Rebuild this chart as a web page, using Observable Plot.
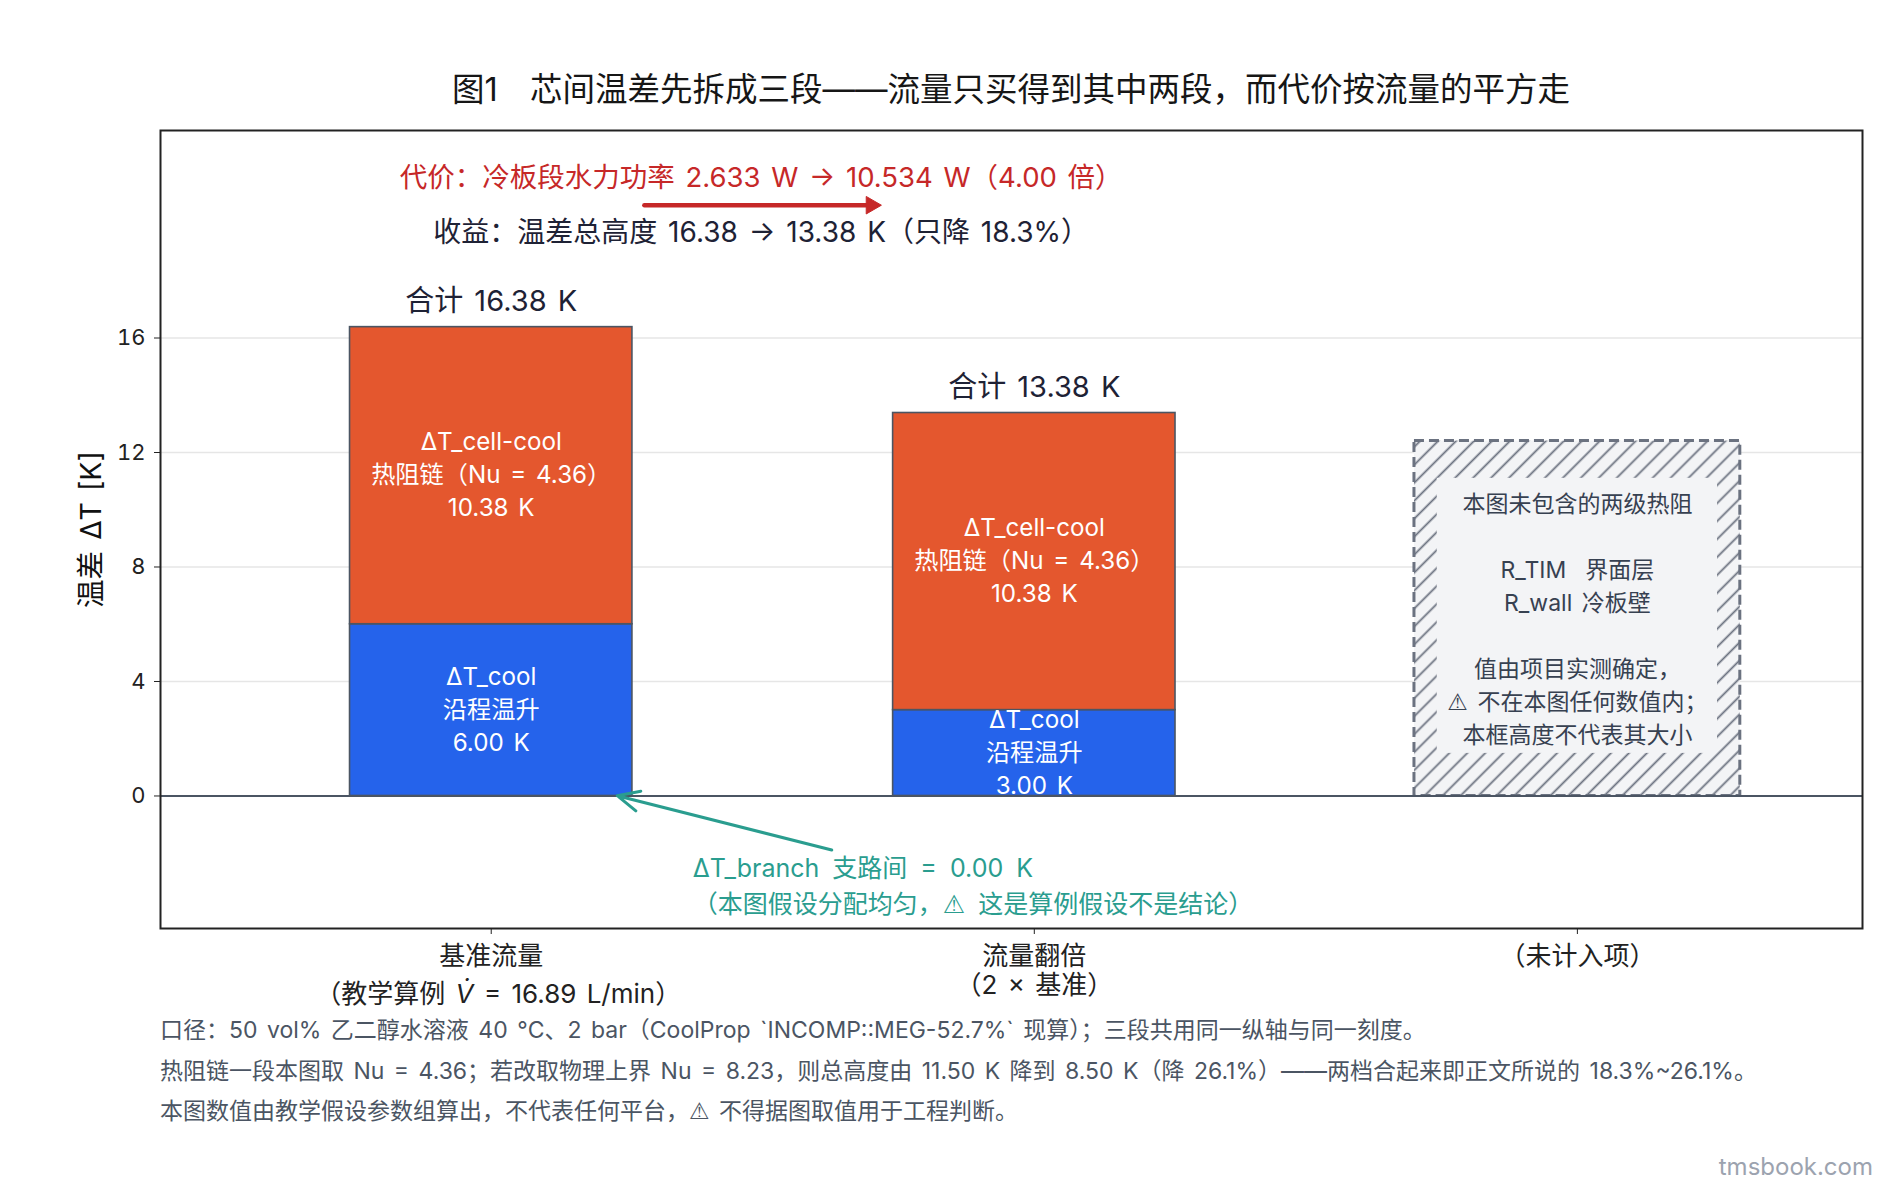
<!DOCTYPE html>
<html>
<head>
<meta charset="utf-8">
<script src="https://cdn.jsdelivr.net/npm/d3@7"></script>
<script src="https://cdn.jsdelivr.net/npm/@observablehq/plot@0.6"></script>
<style>
  html, body { margin: 0; padding: 0; background: #ffffff; }
  #wrap { position: relative; width: 1890px; height: 1189px; overflow: hidden;
          font-family: Inter, "DejaVu Sans", "Noto Sans CJK SC", sans-serif; }
  #title { position: absolute; top: 70px; left: 160px; width: 1702px; line-height: 40px;
           text-align: center; font-size: 32.5px; color: #161616; white-space: nowrap; }
  #chart { position: absolute; top: 110px; left: 0; }
  #notes { position: absolute; top: 1010px; left: 160px; font-size: 23px; line-height: 40.5px;
           color: #4b5563; white-space: nowrap; word-spacing: 3px; }
  #wm { position: absolute; top: 1151px; right: 17px; line-height: 32px; font-size: 24px; color: #9ca3af; }
  .warn { font-family: "DejaVu Sans"; }
</style>
</head>
<body>
<div id="wrap">
  <div id="title"></div>
  <div id="chart"></div>
  <div id="notes"></div>
  <div id="wm">tmsbook.com</div>
</div>
<script>
// ---------------- data ----------------
const titleText = "图1　芯间温差先拆成三段——流量只买得到其中两段，而代价按流量的平方走";
const categories = ["基准流量", "流量翻倍", "（未计入项）"];
const categoryNotes = ["（教学算例 V̇ = 16.89 L/min）", "（2 × 基准）", ""];
const coolRise = [6.00, 3.00];          // ΔT_cool 沿程温升
const cellCool = [10.38, 10.38];        // ΔT_cell-cool 热阻链
const totals = [16.38, 13.38];
const coolName = "ΔT_cool\n沿程温升";
const cellName = "ΔT_cell-cool\n热阻链（Nu = 4.36）";
const yTicks = [0, 4, 8, 12, 16];
const yLabel = "温差 ΔT [K]";
const untrackedHeight = [12.4];
const untrackedLines = ["本图未包含的两级热阻", "", "R_TIM  界面层", "R_wall 冷板壁", "",
                        "值由项目实测确定，", "⚠ 不在本图任何数值内；", "本框高度不代表其大小"];
const costText = ["代价：冷板段水力功率 2.633 W → 10.534 W（4.00 倍）"];
const gainText = ["收益：温差总高度 16.38 → 13.38 K（只降 18.3%）"];
const branchText = ["ΔT_branch 支路间 = 0.00 K\n（本图假设分配均匀，⚠ 这是算例假设不是结论）"];
const notes = [
  "口径：50 vol% 乙二醇水溶液 40 °C、2 bar（CoolProp `INCOMP::MEG-52.7%` 现算）；三段共用同一纵轴与同一刻度。",
  "热阻链一段本图取 Nu = 4.36；若改取物理上界 Nu = 8.23，则总高度由 11.50 K 降到 8.50 K（降 26.1%）——两档合起来即正文所说的 18.3%~26.1%。",
  "本图数值由教学假设参数组算出，不代表任何平台，⚠ 不得据图取值用于工程判断。"
];

// annotation anchors (data units)
const costAnchor = [{x: 0.497, y: 21.6}];
const costArrow = [{x1: 0.282, x2: 0.709, y: 20.64}];
const gainAnchor = [{x: 0.497, y: 19.67}];
const branchArrow = [{x1: 0.627, y1: -1.89, x2: 0.232, y2: 0.01}];
const branchAnchor = [{x: 0.371, y: -3.07}];

// ---------------- derived tables ----------------
const barHalf = 0.26, boxHalf = 0.30, innerHalf = 0.258;
const coolSegs = coolRise.map((v, i) => ({cat: i, y1: 0, y2: v, label: `${coolName}\n${v.toFixed(2)} K`}));
const cellSegs = cellCool.map((v, i) => ({cat: i, y1: coolRise[i], y2: coolRise[i] + v,
                                          label: `${cellName}\n${v.toFixed(2)} K`}));
const boxCat = categories.length - 1;

document.getElementById("title").textContent = titleText;
document.getElementById("notes").innerHTML = notes
  .map(t => `<div>${t.replace("⚠", '<span class="warn">⚠</span>')}</div>`).join("");

const FONT = 'Inter, "DejaVu Sans", "Noto Sans CJK SC", sans-serif';

const chart = Plot.plot({
  width: 1890,
  height: 900,
  marginTop: 20,
  marginBottom: 82,
  marginLeft: 160,
  marginRight: 28,
  style: {fontFamily: FONT, background: "transparent", color: "#222", wordSpacing: "3px"},
  x: {type: "linear", domain: [-0.609, 2.525]},
  y: {domain: [-4.63, 23.25]},
  marks: [
    Plot.ruleY(yTicks.filter(d => d !== 0), {stroke: "#e6e6e6", strokeWidth: 1.5}),
    Plot.rect(coolSegs, {x1: d => d.cat - barHalf, x2: d => d.cat + barHalf, y1: "y1", y2: "y2",
                         fill: "#2563eb", stroke: "#4b5563", strokeWidth: 1.6}),
    Plot.rect(cellSegs, {x1: d => d.cat - barHalf, x2: d => d.cat + barHalf, y1: "y1", y2: "y2",
                         fill: "#e4572e", stroke: "#4b5563", strokeWidth: 1.6}),
    Plot.rect(untrackedHeight, {x1: () => boxCat - boxHalf, x2: () => boxCat + boxHalf, y1: () => 0, y2: d => d,
                                fill: "url(#hatch)", stroke: "#6b7280", strokeWidth: 3, strokeDasharray: "10,5"}),
    Plot.rect(untrackedHeight, {x1: () => boxCat - innerHalf, x2: () => boxCat + innerHalf,
                                y1: d => d * 0.12, y2: d => d * 0.895, fill: "#f3f4f6"}),
    Plot.ruleY([0], {stroke: "#4b5563", strokeWidth: 2}),
    Plot.frame({stroke: "#222", strokeWidth: 2}),
    Plot.axisY(yTicks, {tickSize: 6, tickPadding: 9, fontSize: 22, label: null, color: "#222"}),
    Plot.text([yLabel], {frameAnchor: "left", dx: -69, rotate: -90, textAnchor: "middle", lineAnchor: "middle",
                         fontSize: 28.5, fill: "#111", text: d => d}),
    Plot.axisX([0, 1, 2], {tickSize: 6, tickPadding: 12, fontSize: 26, label: null, color: "#222",
                           tickFormat: i => categories[i]}),
    Plot.text([0], {x: d => d, frameAnchor: "bottom", lineAnchor: "middle", dy: 66, dx: 7, fontSize: 26, fill: "#222",
                    text: d => categoryNotes[d]}),
    Plot.text([1], {x: d => d, frameAnchor: "bottom", lineAnchor: "middle", dy: 57, fontSize: 26, fill: "#222",
                    text: d => categoryNotes[d]}),
    // totals
    Plot.text(totals, {x: (d, i) => i, y: d => d, dy: -25.5, fontSize: 29, fill: "#1e2235",
                       text: d => `合计 ${d.toFixed(2)} K`}),
    // segment labels
    Plot.text(coolSegs.concat(cellSegs), {x: "cat", y: d => (d.y1 + d.y2) / 2, dy: -3, text: "label",
                       fill: "white", fontSize: 24.2, lineHeight: 1.37}),
    // untracked box text
    Plot.text([untrackedLines.join("\n")], {x: () => boxCat, y: () => untrackedHeight[0] / 2 + 0.05, text: d => d,
                       fill: "#374151", fontSize: 23, lineHeight: 1.435}),
    // cost / gain annotations
    Plot.text(costText, {x: () => costAnchor[0].x, y: () => costAnchor[0].y, text: d => d,
                         fill: "#c62828", fontSize: 27.5}),
    Plot.link(costArrow, {x1: "x1", x2: d => d.x2 - 0.012, y1: "y", y2: "y", stroke: "#c62828", strokeWidth: 4.5,
                          strokeLinecap: "round"}),
    Plot.dot(costArrow, {x: "x2", y: "y", symbol: "triangle", rotate: 90, r: 6.5, dx: -5,
                         fill: "#c62828", stroke: "#c62828", strokeWidth: 1}),
    Plot.text(gainText, {x: () => gainAnchor[0].x, y: () => gainAnchor[0].y, text: d => d,
                         fill: "#1e2235", fontSize: 28}),
    // branch annotation
    Plot.arrow(branchArrow, {x1: "x1", y1: "y1", x2: "x2", y2: "y2", stroke: "#2a9d8f", strokeWidth: 3,
                             headLength: 12, headAngle: 50}),
    Plot.text(branchText, {x: () => branchAnchor[0].x, y: () => branchAnchor[0].y, text: d => d,
                           textAnchor: "start", fill: "#2a9d8f", fontSize: 25, lineHeight: 1.44})
  ]
});

// hatch pattern
const ns = "http://www.w3.org/2000/svg";
const defs = document.createElementNS(ns, "defs");
const pat = document.createElementNS(ns, "pattern");
pat.setAttribute("id", "hatch");
pat.setAttribute("patternUnits", "userSpaceOnUse");
pat.setAttribute("width", "12.7");
pat.setAttribute("height", "12.7");
pat.setAttribute("patternTransform", "rotate(45)");
const bg = document.createElementNS(ns, "rect");
bg.setAttribute("width", "12.7"); bg.setAttribute("height", "12.7"); bg.setAttribute("fill", "#f3f4f6");
const ln = document.createElementNS(ns, "line");
ln.setAttribute("x1", "6.35"); ln.setAttribute("x2", "6.35"); ln.setAttribute("y1", "-1"); ln.setAttribute("y2", "14");
ln.setAttribute("stroke", "#6b7280"); ln.setAttribute("stroke-width", "1.8");
pat.appendChild(bg); pat.appendChild(ln); defs.appendChild(pat);
chart.insertBefore(defs, chart.firstChild);

// styled fragments inside SVG text (italic V̇, warning sign glyph font)
function styleFragment(token, attrs) {
  const walker = document.createTreeWalker(chart, NodeFilter.SHOW_TEXT);
  const nodes = [];
  while (walker.nextNode()) if (walker.currentNode.nodeValue.includes(token)) nodes.push(walker.currentNode);
  nodes.forEach(node => {
    const parts = node.nodeValue.split(token);
    const parent = node.parentNode;
    parts.forEach((p, k) => {
      if (p) parent.insertBefore(document.createTextNode(p), node);
      if (k < parts.length - 1) {
        const s = document.createElementNS(ns, "tspan");
        s.textContent = token;
        for (const [a, v] of Object.entries(attrs)) s.setAttribute(a, v);
        parent.insertBefore(s, node);
      }
    });
    parent.removeChild(node);
  });
}
styleFragment("V̇", {"font-style": "italic"});
styleFragment("⚠", {"font-family": "DejaVu Sans"});

chart.querySelectorAll("text").forEach(t => {
  if (t.textContent.startsWith("ΔT_branch")) t.style.wordSpacing = "6px";
});

document.getElementById("chart").appendChild(chart);
</script>
</body>
</html>
